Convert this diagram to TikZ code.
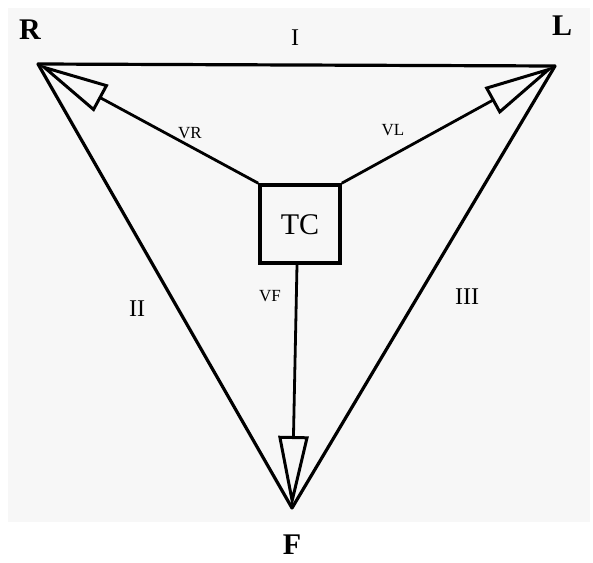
\documentclass[tikz,border=0pt]{standalone}
\usepackage{fontspec}
\setmainfont{Liberation Serif}
\usetikzlibrary{arrows.meta}
\begin{document}
\begin{tikzpicture}[x=1pt,y=-1pt,
  edge/.style={line width=3.2pt, line cap=round},
  vec/.style={line width=2.8pt, -{Triangle[open,length=72pt,width=30pt,line width=3pt]}},
  big/.style={font=\fontsize{30}{32}\selectfont\bfseries},
  mid/.style={font=\fontsize{24}{26}\selectfont},
  small/.style={font=\fontsize{17}{19}\selectfont}]
\fill[white] (0,0) rectangle (593,562);
\useasboundingbox (0,0) rectangle (593,562);
\fill[gray!6] (8,8) rectangle (590,522);
\coordinate (R) at (38,64);
\coordinate (L) at (555,66);
\coordinate (F) at (292,508);
\node[draw, line width=3.6pt, minimum width=80pt, minimum height=78pt, inner sep=0pt] (TC) at (300,224) {};
\node[font=\fontsize{30}{32}\selectfont] (tct) at (300,225) {TC};
\draw[edge] (R) -- (L);
\draw[edge] (R) -- (F);
\draw[edge] (L) -- (F);
\draw[vec] (TC.north west) -- (R);
\draw[vec] (TC.north east) -- (L);
\draw[vec] ([xshift=-3pt]TC.south) -- (F);
\node[big] (lr) at (30,30) {R};
\node[big] (ll) at (562,26) {L};
\node[big] (lf) at (292,545) {F};
\node[mid] (l1) at (295,38) {I};
\node[mid] (l2) at (137,309) {II};
\node[mid] (l3) at (467,297) {III};
\node[small] (vr) at (190,133) {VR};
\node[small] (vl) at (393,130) {VL};
\node[small] (vf) at (270,296) {VF};
\end{tikzpicture}
\end{document}
